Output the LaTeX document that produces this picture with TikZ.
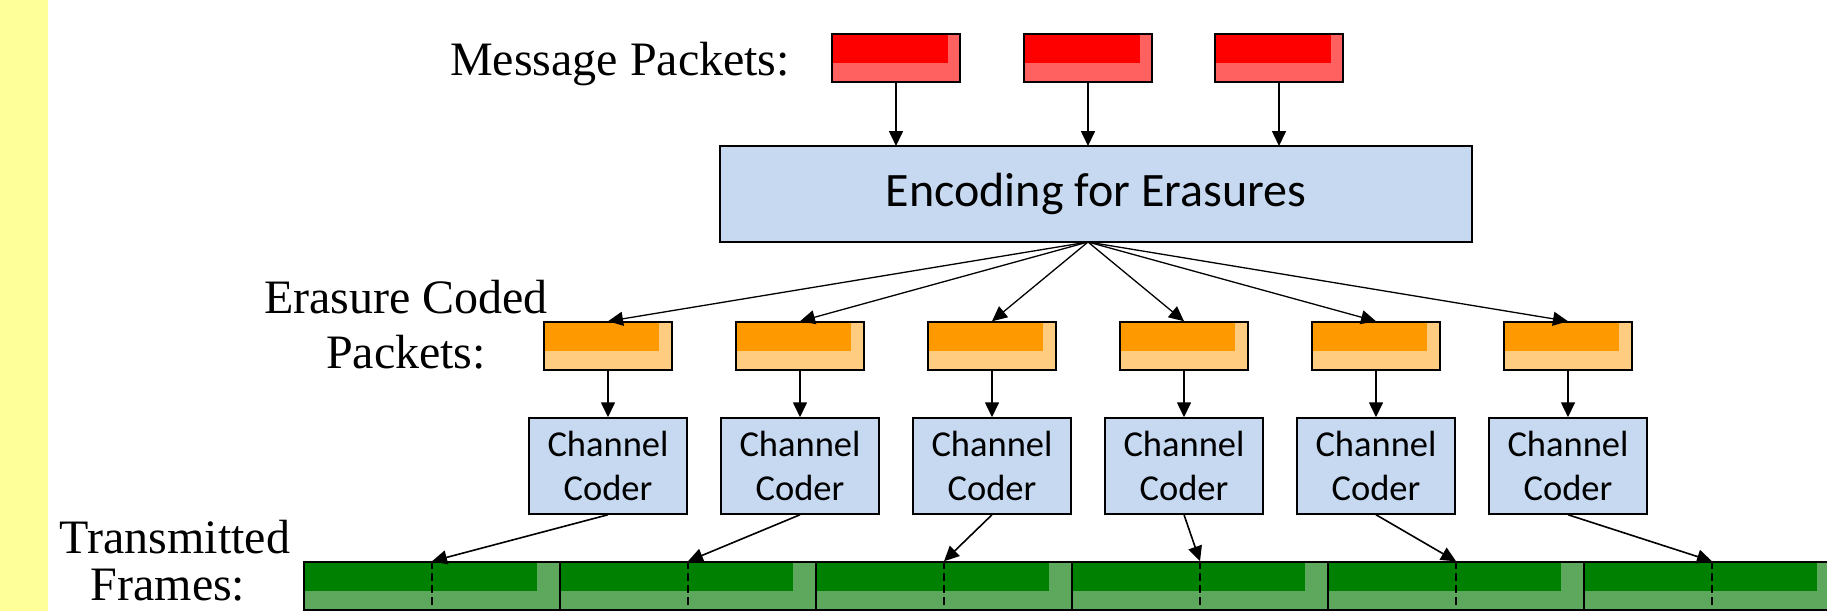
\documentclass[tikz,border=0pt]{standalone}
\usepackage{fontspec}
\setmainfont{Liberation Serif}
\newfontfamily\boxfont{Carlito}
\usetikzlibrary{arrows.meta}
\definecolor{bandyellow}{HTML}{FFFF99}
\definecolor{boxblue}{HTML}{C6D9F1}
\definecolor{pktred}{HTML}{FF0000}
\definecolor{pktredlt}{HTML}{FF6060}
\definecolor{pktorange}{HTML}{FF9900}
\definecolor{pktorangelt}{HTML}{FFCC80}
\definecolor{frgreen}{HTML}{008000}
\definecolor{frgreenlt}{HTML}{5EA85E}
\tikzset{
  pktbase/.style={draw=black, line width=1.5pt, inner sep=0pt, minimum width=128pt, minimum height=48pt},
  speck/.style n args={3}{path picture={
     \fill[#1] (path picture bounding box.south west) rectangle ([yshift=#2]path picture bounding box.south east);
     \fill[#1] ([xshift=-#3]path picture bounding box.north east) rectangle (path picture bounding box.south east);}},
  msgpkt/.style={pktbase, fill=pktred, speck={pktredlt}{19pt}{12pt}},
  encpkt/.style={pktbase, fill=pktorange, speck={pktorangelt}{19pt}{13pt}},
  txframe/.style={pktbase, minimum width=256pt, fill=frgreen, speck={frgreenlt}{19pt}{23pt}},
  procbox/.style={draw=black, line width=1.5pt, fill=boxblue, inner sep=0pt, align=center},
  arr/.style={line width=1.6pt, -{Triangle[length=15pt,width=14pt]}},
  fanarr/.style={line width=1.3pt, -{Triangle[length=15pt,width=14pt]}},
  lab/.style={font=\fontsize{48pt}{48pt}\selectfont, inner sep=0pt, anchor=base},
  midline/.style={line width=1.8pt, dash pattern=on 8pt off 4pt},
}
\begin{document}
\begin{tikzpicture}[x=1pt,y=-1pt]
\clip (0,0) rectangle (1827,611);
\fill[white] (0,0) rectangle (1827,611);
\fill[bandyellow] (0,0) rectangle (48,611);

% labels
\node[lab] (lmsg) at (620,75) {Message Packets:};
\node[lab] (lec1) at (406,313) {Erasure Coded};
\node[lab] (lec2) at (406,368) {Packets:};
\node[lab] (ltx1) at (175,553) {Transmitted};
\node[lab] (ltx2) at (168,600) {Frames:};

% message packets
\node[msgpkt] (m1) at (896,58) {};
\node[msgpkt] (m2) at (1088,58) {};
\node[msgpkt] (m3) at (1279,58) {};

% encoder
\node[procbox, minimum width=752pt, minimum height=96pt, font=\boxfont\fontsize{48pt}{52pt}\selectfont] (enc) at (1096,194) {Encoding for Erasures};
\coordinate (fan) at (1088,242);

\foreach \i/\x in {1/896,2/1088,3/1279}{
  \draw[arr] (m\i.south) -- (\x,146);
}

% erasure coded packets, channel coders, frames
\foreach \i in {1,...,6}{
  \pgfmathsetmacro{\cx}{608+192*(\i-1)}
  \pgfmathsetmacro{\fx}{432+256*(\i-1)}
  \node[encpkt] (e\i) at (\cx,346) {};
  \node[procbox, minimum width=158pt, minimum height=96pt, font=\boxfont\fontsize{36.5pt}{44pt}\selectfont] (c\i) at (\cx,466) {Channel\\Coder};
  \node[txframe] (f\i) at (\fx,586) {};
}
\foreach \i in {1,...,6}{
  \draw[midline] (f\i.north) -- (f\i.south);
  \draw[fanarr] (fan) -- (e\i.north);
  \draw[arr] (e\i.south) -- (c\i.north);
  \draw[arr] (c\i.south) -- (f\i.north);
}
\end{tikzpicture}
\end{document}
